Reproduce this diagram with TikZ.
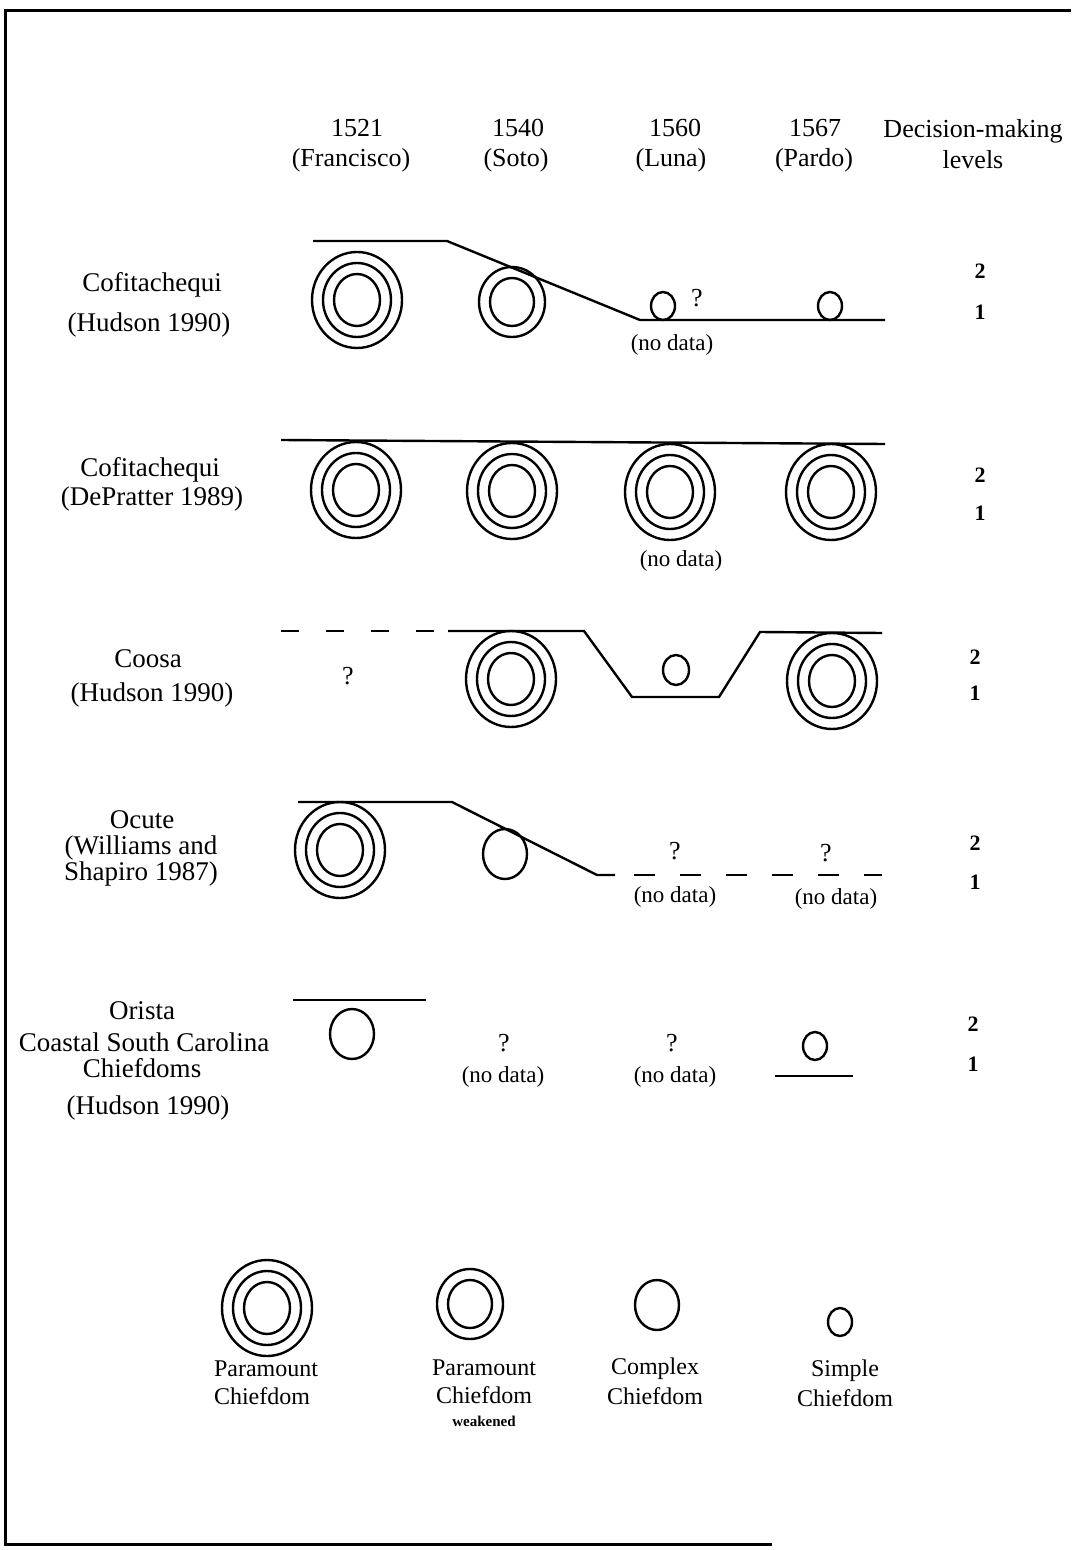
\documentclass[tikz,border=0pt]{standalone}
\usepackage{fontspec}
\setmainfont{Liberation Serif}
\usetikzlibrary{shapes.geometric}

% chiefdom symbols: concentric rings drawn as named ellipse nodes
\newcommand\paramountmark[2]{%
  \node[ring={45pt}{48pt}] (#1) at (#2) {};
  \node[ring={34pt}{37pt}] (#1-mid) at (#2) {};
  \node[ring={23pt}{26pt}] (#1-in) at (#2) {};}
\newcommand\weakmark[2]{%
  \node[ring={33pt}{35pt}] (#1) at (#2) {};
  \node[ring={22pt}{24pt}] (#1-in) at (#2) {};}
\newcommand\complexmark[2]{\node[ring={22pt}{25pt}] (#1) at (#2) {};}
\newcommand\simplemark[2]{\node[ring={12pt}{14pt}] (#1) at (#2) {};}

\begin{document}
\begin{tikzpicture}[x=0.5pt,y=-0.5pt,
  ring/.style 2 args={draw, ellipse, line width=1.2pt, inner sep=0pt,
    minimum width=#1, minimum height=#2},
  level/.style={line width=1.2pt},
  frame/.style={line width=1.5pt},
  hdr/.style={inner sep=0pt, font=\fontsize{13}{15}\selectfont},
  lbl/.style={inner sep=0pt, font=\fontsize{13.5}{16}\selectfont},
  num/.style={inner sep=0pt, font=\fontsize{11}{13}\selectfont\bfseries},
  qm/.style={inner sep=0pt, font=\fontsize{13}{15}\selectfont},
  nodata/.style={inner sep=0pt, font=\fontsize{11.5}{13}\selectfont},
  key/.style={inner sep=0pt, font=\fontsize{12}{14}\selectfont},
  tiny/.style={inner sep=0pt, font=\fontsize{7.5}{9}\selectfont\bfseries}]

\useasboundingbox (0,0) rectangle (1071,1550);

% frame
\coordinate (fTL) at (5,11);
\coordinate (fTR) at (1071,11);
\coordinate (fBL) at (5,1544);
\coordinate (fBR) at (772,1544);
\draw[frame] (fTR) -- (fTL) -- (fBL) -- (fBR);

% column headings
\node[hdr] (h1) at (357,128) {1521};
\node[hdr] (h1b) at (351,160) {(Francisco)};
\node[hdr] (h2) at (518,128) {1540};
\node[hdr] (h2b) at (516,160) {(Soto)};
\node[hdr] (h3) at (675,128) {1560};
\node[hdr] (h3b) at (671,160) {(Luna)};
\node[hdr] (h4) at (815,128) {1567};
\node[hdr] (h4b) at (814,160) {(Pardo)};
\node[hdr] (h5) at (973,131) {Decision-making};
\node[hdr] (h5b) at (973,160) {levels};

% ---- Cofitachequi (Hudson 1990)
\node[lbl] (r1a) at (152,285) {Cofitachequi};
\node[lbl] (r1b) at (149,325) {(Hudson 1990)};
\coordinate (a1) at (313,241);
\coordinate (a2) at (447,241);
\coordinate (a3) at (640,320);
\coordinate (a4) at (885,320);
\draw[level] (a1) -- (a2) -- (a3) -- (a4);
\paramountmark{c11}{357,300}
\weakmark{c12}{512,302}
\simplemark{c13}{663,306}
\node[qm] (q13) at (697,298) {?};
\node[nodata] (n13) at (672,345) {(no data)};
\simplemark{c14}{830,306}
\node[num] (l1t) at (980,271) {2};
\node[num] (l1b) at (980,312) {1};

% ---- Cofitachequi (DePratter 1989)
\node[lbl] (r2a) at (150,470) {Cofitachequi};
\node[lbl] (r2b) at (152,499) {(DePratter 1989)};
\coordinate (b1) at (281,440);
\coordinate (b2) at (885,444);
\draw[level] (b1) -- (b2);
\paramountmark{c21}{356,490}
\paramountmark{c22}{512,491}
\paramountmark{c23}{670,492}
\paramountmark{c24}{831,492}
\node[nodata] (n23) at (681,561) {(no data)};
\node[num] (l2t) at (980,475) {2};
\node[num] (l2b) at (980,513) {1};

% ---- Coosa (Hudson 1990)
\node[lbl] (r3a) at (148,659) {Coosa};
\node[lbl] (r3b) at (152,695) {(Hudson 1990)};
\coordinate (k0) at (281,631);
\coordinate (k1) at (434,631);
\coordinate (k2) at (448,631);
\coordinate (k3) at (584,631);
\coordinate (k4) at (632,697);
\coordinate (k5) at (719,697);
\coordinate (k6) at (760,632);
\coordinate (k7) at (882,633);
\draw[level, dash pattern=on 9pt off 13.5pt] (k0) -- (k1);
\draw[level] (k2) -- (k3) -- (k4) -- (k5) -- (k6) -- (k7);
\node[qm] (q31) at (348,676) {?};
\paramountmark{c32}{511,679}
\node[ring={13pt}{15pt}] (c33) at (676,670) {};
\paramountmark{c34}{832,681}
\node[num] (l3t) at (975,657) {2};
\node[num] (l3b) at (975,693) {1};

% ---- Ocute (Williams and Shapiro 1987)
\node[lbl] (r4a) at (142,820) {Ocute};
\node[lbl] (r4b) at (141,848) {(Williams and};
\node[lbl] (r4c) at (141,874) {Shapiro 1987)};
\coordinate (o1) at (298,802);
\coordinate (o2) at (452,802);
\coordinate (o3) at (597,875);
\coordinate (o4) at (615,875);
\coordinate (o5) at (634,875);
\coordinate (o6) at (882,875);
\draw[level] (o1) -- (o2) -- (o3) -- (o4);
\draw[level, dash pattern=on 10.5pt off 12.5pt] (o5) -- (o6);
\paramountmark{c41}{340,850}
\complexmark{c42}{505,854}
\node[qm] (q43) at (675,851) {?};
\node[nodata] (n43) at (675,897) {(no data)};
\node[qm] (q44) at (826,853) {?};
\node[nodata] (n44) at (836,899) {(no data)};
\node[num] (l4t) at (975,843) {2};
\node[num] (l4b) at (975,882) {1};

% ---- Orista / Coastal South Carolina Chiefdoms (Hudson 1990)
\node[lbl] (r5a) at (142,1011) {Orista};
\node[lbl] (r5b) at (144,1042) {Coastal South Carolina};
\node[lbl] (r5c) at (142,1068) {Chiefdoms};
\node[lbl] (r5d) at (148,1108) {(Hudson 1990)};
\coordinate (s1) at (293,1000);
\coordinate (s2) at (426,1000);
\draw[level] (s1) -- (s2);
\complexmark{c51}{352,1034}
\node[qm] (q52) at (504,1043) {?};
\node[nodata] (n52) at (503,1077) {(no data)};
\node[qm] (q53) at (672,1043) {?};
\node[nodata] (n53) at (675,1077) {(no data)};
\simplemark{c54}{815,1046}
\coordinate (s3) at (775,1076);
\coordinate (s4) at (853,1076);
\draw[level] (s3) -- (s4);
\node[num] (l5t) at (973,1024) {2};
\node[num] (l5b) at (973,1064) {1};

% ---- key
\paramountmark{k1m}{267,1308}
\node[key] (k1a) at (266,1369) {Paramount};
\node[key] (k1b) at (262,1396) {Chiefdom};
\weakmark{k2m}{470,1304}
\node[key] (k2a) at (484,1368) {Paramount};
\node[key] (k2b) at (484,1395) {Chiefdom};
\node[tiny] (k2c) at (484,1421) {weakened};
\complexmark{k3m}{657,1305}
\node[key] (k3a) at (655,1369) {Complex};
\node[key] (k3b) at (655,1396) {Chiefdom};
\simplemark{k4m}{840,1322}
\node[key] (k4a) at (845,1371) {Simple};
\node[key] (k4b) at (845,1398) {Chiefdom};
\end{tikzpicture}
\end{document}
